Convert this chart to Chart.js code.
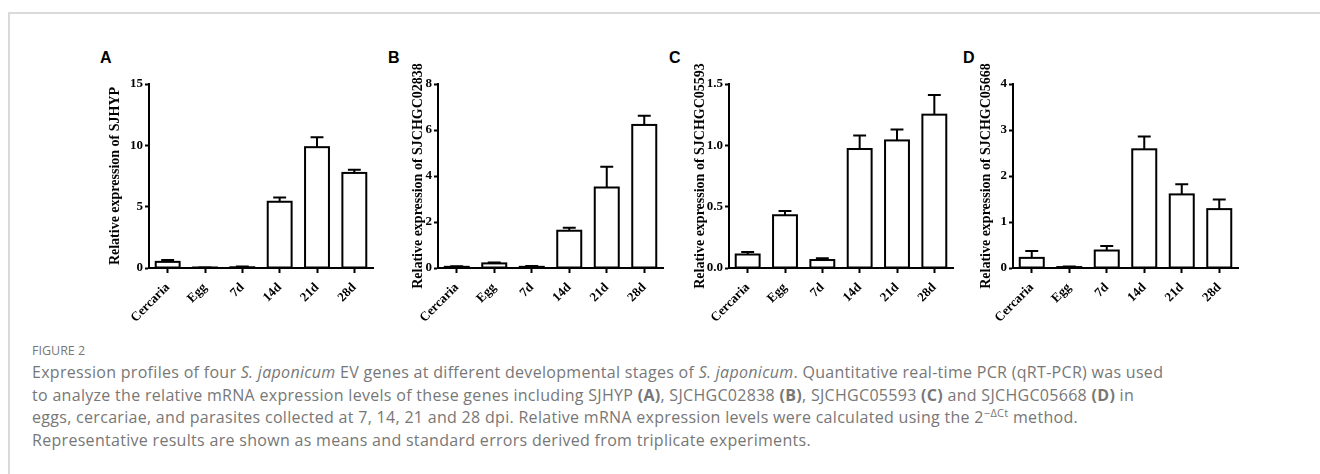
<!DOCTYPE html>
<html>
<head>
<meta charset="utf-8">
<script src="https://cdn.jsdelivr.net/npm/chart.js@4.4.1/dist/chart.umd.min.js"></script>
<style>
  body { margin: 0; background: #fff; width: 1320px; height: 474px; overflow: hidden; position: relative; font-family: "Open Sans", sans-serif; }
  .frame { position: absolute; left: 8px; top: 12px; right: -4px; bottom: -4px; border-top: 2px solid #dadada; border-left: 2px solid #dadada; }
  canvas { position: absolute; }
  .lab { position: absolute; font: bold 16px/16px "Liberation Sans", Arial, sans-serif; color: #000; }
  .fig { position: absolute; left: 32px; top: 342px; font-size: 12.5px; color: #777; }
  .cap { position: absolute; left: 32px; top: 361px; font-size: 16px; letter-spacing: 0.3px; line-height: 22.7px; color: #777; white-space: nowrap; }
  .cap sup { font-size: 11px; line-height: 0; }
</style>
</head>
<body>
<div class="frame"></div>

<div class="lab" style="left:100px;top:50px">A</div>
<div class="lab" style="left:388px;top:50px">B</div>
<div class="lab" style="left:669px;top:50px">C</div>
<div class="lab" style="left:963px;top:50px">D</div>

<canvas id="chartA" width="271" height="288" style="left:108px;top:40px"></canvas>
<canvas id="chartB" width="258" height="288" style="left:411px;top:40px"></canvas>
<canvas id="chartC" width="266" height="288" style="left:693px;top:40px"></canvas>
<canvas id="chartD" width="265" height="288" style="left:979px;top:40px"></canvas>

<div class="fig">FIGURE 2</div>
<div class="cap">
Expression profiles of four <i>S. japonicum</i> EV genes at different developmental stages of <i>S. japonicum</i>. Quantitative real-time PCR (qRT-PCR) was used<br>
to analyze the relative mRNA expression levels of these genes including SJHYP <b>(A)</b>, SJCHGC02838 <b>(B)</b>, SJCHGC05593 <b>(C)</b> and SJCHGC05668 <b>(D)</b> in<br>
eggs, cercariae, and parasites collected at 7, 14, 21 and 28 dpi. Relative mRNA expression levels were calculated using the 2<sup>&minus;&Delta;Ct</sup> method.<br>
Representative results are shown as means and standard errors derived from triplicate experiments.
</div>

<script>
const stages = ["Cercaria", "Egg", "7d", "14d", "21d", "28d"];

// means and SEM per gene
const sjhyp = [0.5, 0.02, 0.06, 5.4, 9.85, 7.75];
const sjhypErr = [0.15, 0.02, 0.07, 0.35, 0.8, 0.25];
const sjchgc02838 = [0.05, 0.2, 0.05, 1.62, 3.5, 6.22];
const sjchgc02838Err = [0.03, 0.04, 0.04, 0.13, 0.9, 0.4];
const sjchgc05593 = [0.11, 0.43, 0.065, 0.97, 1.04, 1.25];
const sjchgc05593Err = [0.02, 0.035, 0.015, 0.11, 0.09, 0.16];
const sjchgc05668 = [0.22, 0.02, 0.38, 2.58, 1.6, 1.28];
const sjchgc05668Err = [0.15, 0.01, 0.1, 0.28, 0.22, 0.21];

const ticksA = ["0", "5", "10", "15"];
const ticksB = ["0", "2", "4", "6", "8"];
const ticksC = ["0.0", "0.5", "1.0", "1.5"];
const ticksD = ["0", "1", "2", "3", "4"];

const serifFamily = "'Liberation Serif', 'Times New Roman', serif";

// bar outline + upper SEM whisker, graphpad style
const errorBars = {
  id: "errorBars",
  afterDatasetsDraw(chart, args, opts) {
    const ctx = chart.ctx;
    const y = chart.scales.y;
    const vals = chart.data.datasets[0].data;
    ctx.save();
    ctx.strokeStyle = "#000";
    ctx.lineWidth = 2;
    chart.getDatasetMeta(0).data.forEach((bar, i) => {
      const w = bar.width;
      ctx.strokeRect(bar.x - w / 2, bar.y, w, bar.base - bar.y);
      const top = y.getPixelForValue(vals[i] + opts.err[i]);
      ctx.beginPath();
      ctx.moveTo(bar.x, bar.y);
      ctx.lineTo(bar.x, top);
      ctx.moveTo(bar.x - w * 0.27, top);
      ctx.lineTo(bar.x + w * 0.27, top);
      ctx.stroke();
    });
    ctx.restore();
  }
};

function panel(id, values, errs, yMax, yStep, yLabels, title, yWidth) {
  new Chart(document.getElementById(id), {
    type: "bar",
    data: {
      labels: stages,
      datasets: [{
        data: values,
        backgroundColor: "#fff",
        borderWidth: 0,
        barPercentage: 0.64,
        categoryPercentage: 1
      }]
    },
    options: {
      responsive: false,
      animation: false,
      layout: { padding: { top: 44, right: 6, left: 0, bottom: 0 } },
      plugins: {
        legend: { display: false },
        tooltip: { enabled: false },
        errorBars: { err: errs }
      },
      scales: {
        x: {
          offset: true,
          grid: { offset: false, drawOnChartArea: false, tickLength: 5, tickWidth: 2, tickColor: "#000" },
          border: { color: "#000", width: 2 },
          ticks: {
            minRotation: 45, maxRotation: 45, autoSkip: false, color: "#000", padding: 7,
            font: { family: serifFamily, weight: "bold", size: 13 }
          },
          afterFit: s => { s.height = 60; }
        },
        y: {
          min: 0,
          max: yMax,
          ticks: {
            stepSize: yStep, callback: (v, i) => yLabels[i], color: "#000", padding: 2,
            font: { family: serifFamily, weight: "bold", size: 13 }
          },
          grid: { drawOnChartArea: false, tickLength: 4, tickWidth: 2, tickColor: "#000" },
          border: { color: "#000", width: 2 },
          title: {
            display: true,
            text: title,
            color: "#000",
            padding: 0,
            font: { family: serifFamily, weight: "bold", size: 14, lineHeight: 1 }
          },
          afterFit: s => { s.width = yWidth; }
        }
      }
    },
    plugins: [errorBars]
  });
}

panel("chartA", sjhyp, sjhypErr, 15, 5, ticksA, "Relative expression of SJHYP", 41);
panel("chartB", sjchgc02838, sjchgc02838Err, 8, 2, ticksB, "Relative expression of SJCHGC02838", 27);
panel("chartC", sjchgc05593, sjchgc05593Err, 1.5, 0.5, ticksC, "Relative expression of SJCHGC05593", 36);
panel("chartD", sjchgc05668, sjchgc05668Err, 4, 1, ticksD, "Relative expression of SJCHGC05668", 34);
</script>
</body>
</html>
